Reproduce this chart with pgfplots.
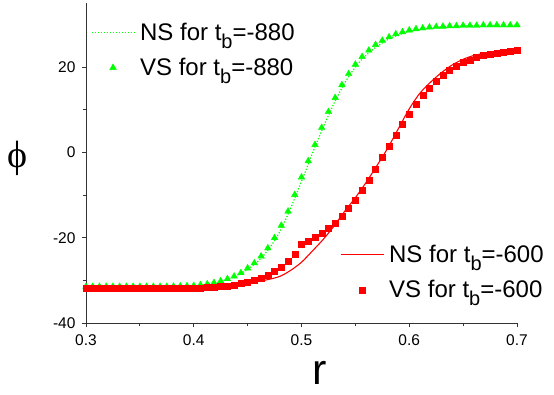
\documentclass[border=0pt]{standalone}
\usepackage{fontspec}
\setmainfont{Liberation Sans}
\newfontfamily\phifont{Liberation Serif}
\usepackage{pgfplots}
\pgfplotsset{compat=1.18}

\definecolor{ngreen}{RGB}{0,255,0}
\definecolor{nred}{RGB}{255,0,0}

\newcommand{\legfont}{\fontsize{24}{27}\selectfont}
\newcommand{\sub}[1]{\raisebox{-0.32em}{\fontsize{20}{20}\selectfont #1}}

\tikzset{nsdots/.style={dash pattern=on 1.2pt off 1.8pt}}

% VS, t_b = -880
\pgfplotstableread{
r phi
0.3 -31.4
0.30625 -31.4
0.3125 -31.4
0.31875 -31.4
0.325 -31.4
0.33125 -31.4
0.3375 -31.4
0.34375 -31.4
0.35 -31.4
0.35625 -31.4
0.3625 -31.4
0.36875 -31.4
0.375 -31.4
0.38125 -31.35
0.3875 -31.3
0.39375 -31.25
0.4 -31.2
0.40625 -31.0
0.4125 -30.8
0.41875 -30.5
0.425 -30.1
0.43125 -29.6
0.4375 -29.0
0.44375 -28.2
0.45 -27.1
0.45625 -25.9
0.4625 -24.3
0.46875 -22.4
0.475 -20.0
0.48125 -17.1
0.4875 -13.8
0.49375 -9.9
0.5 -5.8
0.50625 -2.0
0.5125 1.8
0.51875 5.8
0.525 9.5
0.53125 12.8
0.5375 15.8
0.54375 18.4
0.55 20.6
0.55625 22.4
0.5625 23.9
0.56875 25.2
0.575 26.2
0.58125 27.0
0.5875 27.7
0.59375 28.2
0.6 28.6
0.60625 28.9
0.6125 29.1
0.61875 29.3
0.625 29.4
0.63125 29.5
0.6375 29.6
0.64375 29.6
0.65 29.7
0.65625 29.7
0.6625 29.7
0.66875 29.8
0.675 29.8
0.68125 29.8
0.6875 29.8
0.69375 29.8
0.7 29.8
}\vsgreen

% NS, t_b = -880
\pgfplotstableread{
r phi
0.3 -31.5
0.35 -31.5
0.38 -31.4
0.40 -31.2
0.41 -30.9
0.42 -30.5
0.43 -29.8
0.44 -28.8
0.45 -27.4
0.46 -25.4
0.47 -22.5
0.48 -18.5
0.49 -13.0
0.50 -6.8
0.51 -0.3
0.52 5.8
0.53 11.4
0.54 16.2
0.55 20.0
0.56 22.8
0.57 24.8
0.58 26.4
0.59 27.5
0.60 28.3
0.62 29.1
0.64 29.5
0.67 29.7
0.70 29.8
}\nsgreen

% VS, t_b = -600
\pgfplotstableread{
r phi
0.3 -31.8
0.30625 -31.8
0.3125 -31.8
0.31875 -31.8
0.325 -31.8
0.33125 -31.8
0.3375 -31.8
0.34375 -31.8
0.35 -31.8
0.35625 -31.8
0.3625 -31.8
0.36875 -31.8
0.375 -31.8
0.38125 -31.8
0.3875 -31.8
0.39375 -31.8
0.4 -31.8
0.40625 -31.7
0.4125 -31.6
0.41875 -31.5
0.425 -31.4
0.43125 -31.2
0.4375 -31.0
0.44375 -30.7
0.45 -30.4
0.45625 -30.0
0.4625 -29.5
0.46875 -28.8
0.475 -27.9
0.48125 -26.8
0.4875 -25.4
0.49375 -23.8
0.5 -21.6
0.50625 -20.7
0.5125 -19.9
0.51875 -18.9
0.525 -17.8
0.53125 -16.5
0.5375 -14.9
0.54375 -13.1
0.55 -11.1
0.55625 -8.9
0.5625 -6.5
0.56875 -3.9
0.575 -1.2
0.58125 1.5
0.5875 4.1
0.59375 6.7
0.6 9.0
0.60625 11.2
0.6125 13.3
0.61875 15.0
0.625 16.6
0.63125 18.0
0.6375 19.3
0.64375 20.3
0.65 21.1
0.65625 21.7
0.6625 22.3
0.66875 22.7
0.675 23.1
0.68125 23.3
0.6875 23.5
0.69375 23.7
0.7 23.9
}\vsred

% NS, t_b = -600
\pgfplotstableread{
r phi
0.3 -32.0
0.35 -32.0
0.40 -31.9
0.42 -31.6
0.44 -31.0
0.46 -30.2
0.47 -29.7
0.48 -29.0
0.49 -27.6
0.50 -25.7
0.51 -23.1
0.52 -20.4
0.53 -17.3
0.54 -13.8
0.55 -10.6
0.56 -7.0
0.57 -3.1
0.58 1.0
0.59 5.6
0.60 10.2
0.61 13.9
0.62 16.5
0.63 18.7
0.64 20.5
0.65 21.8
0.66 22.7
0.67 23.2
0.68 23.6
0.69 23.8
0.70 23.9
}\nsred

\pgfplotsset{
  base/.style={
    scale only axis,
    width=431pt, height=320.4pt,
    xmin=0.3, xmax=0.7, ymin=-40, ymax=35,
    axis x line=bottom, axis y line=left,
    axis line style={-, line width=0.9pt, black!80},
    tick align=outside,
    major tick length=4pt, minor tick length=3pt,
    tick style={line width=0.9pt, black!80},
    xtick={0.3,0.4,0.5,0.6,0.7},
    ytick={-40,-20,0,20},
    minor x tick num=1, minor y tick num=1,
    /pgf/number format/assume math mode=true,
    xticklabel style={font=\fontsize{15.5}{18}\selectfont, yshift=-4pt,
      /pgf/number format/.cd, fixed, precision=1, fixed zerofill},
    yticklabel style={font=\fontsize{15.5}{18}\selectfont, xshift=-3pt},
    legend style={draw=none, fill=none, font=\legfont, inner sep=0pt, row sep=12pt,
      cells={anchor=west}, nodes={inner xsep=5pt}},
  },
  linelegend/.style={legend image code/.code={\draw[##1] (0pt,0pt) -- (43pt,0pt);}},
  marklegend/.style={legend image code/.code={\draw[##1, mark repeat=2, mark phase=2] plot coordinates {(0pt,0pt) (21.5pt,0pt) (43pt,0pt)};}},
}

\begin{document}
\begin{tikzpicture}
\begin{axis}[base,
  xlabel={\fontsize{43}{43}\selectfont r},
  x label style={at={(axis description cs:0.543,-0.156)}, anchor=center},
  ylabel={\phifont\fontsize{38}{38}\selectfont ϕ},
  y label style={at={(axis description cs:-0.16,0.516)}, rotate=-90, anchor=center},
  legend style={at={(axis description cs:0.011,0.943)}, anchor=north west},
]
\addplot[ngreen, nsdots, line width=1.2pt, smooth, linelegend,
  legend image post style={draw=ngreen, line width=1.2pt, nsdots}] table[x=r, y=phi] {\nsgreen};
\addlegendentry{NS for t\sub{b}=-880}
\addplot[ngreen, only marks, mark=triangle*, mark size=3.8pt, marklegend] table[x=r, y=phi] {\vsgreen};
\addlegendentry{VS for t\sub{b}=-880}
\end{axis}
\begin{axis}[base, hide axis,
  legend style={at={(axis description cs:0.589,0.25)}, anchor=north west},
]
\addplot[nred, line width=1.1pt, smooth, linelegend,
  legend image post style={draw=nred, line width=1.1pt}] table[x=r, y=phi] {\nsred};
\addlegendentry{NS for t\sub{b}=-600}
\addplot[nred, only marks, mark=square*, mark size=3pt, marklegend] table[x=r, y=phi] {\vsred};
\addlegendentry{VS for t\sub{b}=-600}
\end{axis}
\pgfresetboundingbox
\path (-86pt,-70.7pt) rectangle (468pt,323.3pt);
\end{tikzpicture}
\end{document}
